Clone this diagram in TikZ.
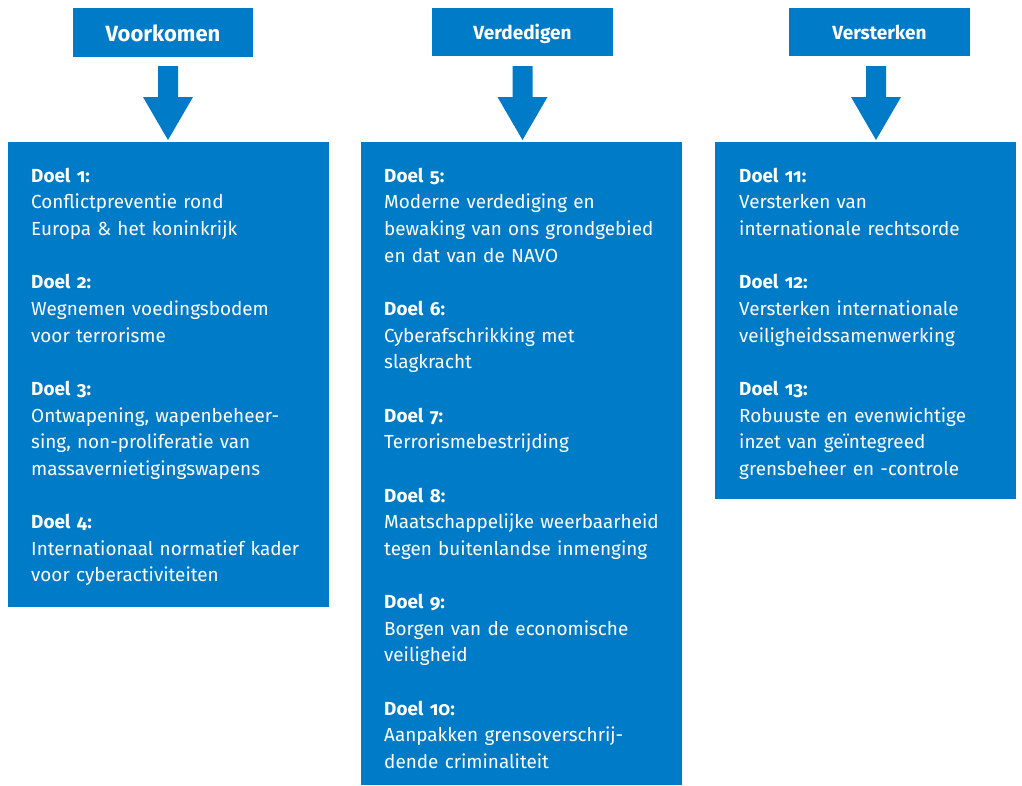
\documentclass[tikz,border=0pt]{standalone}
\usepackage{fontspec}
\setmainfont{Fira Sans}[Numbers=OldStyle]
\definecolor{rblue}{HTML}{007BC7}
\newcommand\goalfont{\fontsize{18.9}{26.65}\selectfont}
\newcommand\doel[1]{\rule{0pt}{20pt}\textbf{Doel #1:}}
\tikzset{
  hdr/.style={fill=rblue, text=white, inner sep=0pt, text depth=0pt, text height=15pt, font=\bfseries\fontsize{19}{22}\selectfont},
  panel/.style={fill=rblue, draw=none, inner sep=0pt, anchor=north west},
  goal/.style={text=white, anchor=north west, inner sep=0pt, text width=300pt, align=left, font=\goalfont},
  barrow/.style={fill=rblue, draw=none}
}
\begin{document}
\begin{tikzpicture}[x=1pt,y=-1pt]
\useasboundingbox (0,0) rectangle (1022,785);
% headers
\node[hdr, minimum width=180pt, minimum height=49pt, text height=17pt, font=\bfseries\fontsize{22}{24}\selectfont] (h1) at (163,32.5) {Voorkomen};
\node[hdr, minimum width=181pt, minimum height=48pt] (h2) at (522.5,32) {Verdedigen};
\node[hdr, minimum width=181pt, minimum height=48pt] (h3) at (879.5,32) {Versterken};
% panels
\node[panel, minimum width=321pt, minimum height=465pt] (p1) at (8,142) {};
\node[panel, minimum width=321pt, minimum height=643pt] (p2) at (361,142) {};
\node[panel, minimum width=301pt, minimum height=357pt] (p3) at (715,142) {};
% block arrows
\foreach \ax in {168,522.5,876}{
  \fill[barrow, shift={(\ax,142)}] (-10,-76) -- (10,-76) -- (10,-45) -- (25,-45) -- (0,-2) -- (-25,-45) -- (-10,-45) -- cycle;
}
% column 1
\node[goal] (g1) at (31,162) {\doel{1}\\Conflictpreventie rond\\Europa \& het koninkrijk};
\node[goal] (g2) at (31,268.6) {\doel{2}\\Wegnemen voedingsbodem\\voor terrorisme};
\node[goal] (g3) at (31,375.2) {\doel{3}\\Ontwapening, wapenbeheer-\\sing, non-proliferatie van\\massavernietigingswapens};
\node[goal] (g4) at (31,508.45) {\doel{4}\\Internationaal normatief kader\\voor cyberactiviteiten};
% column 2
\node[goal] (g5) at (384,162) {\doel{5}\\Moderne verdediging en\\bewaking van ons grondgebied\\en dat van de NAVO};
\node[goal] (g6) at (384,295.25) {\doel{6}\\Cyberafschrikking met\\slagkracht};
\node[goal] (g7) at (384,401.85) {\doel{7}\\Terrorismebestrijding};
\node[goal] (g8) at (384,481.8) {\doel{8}\\Maatschappelijke weerbaarheid\\tegen buitenlandse inmenging};
\node[goal] (g9) at (384,588.4) {\doel{9}\\Borgen van de economische\\veiligheid};
\node[goal] (g10) at (384,695) {\doel{10}\\Aanpakken grensoverschrij-\\dende criminaliteit};
% column 3
\node[goal] (g11) at (739,162) {\doel{11}\\Versterken van\\internationale rechtsorde};
\node[goal] (g12) at (739,268.6) {\doel{12}\\Versterken internationale\\veiligheidssamenwerking};
\node[goal] (g13) at (739,375.2) {\doel{13}\\Robuuste en evenwichtige\\inzet van geïntegreed\\grensbeheer en -controle};
\end{tikzpicture}
\end{document}
